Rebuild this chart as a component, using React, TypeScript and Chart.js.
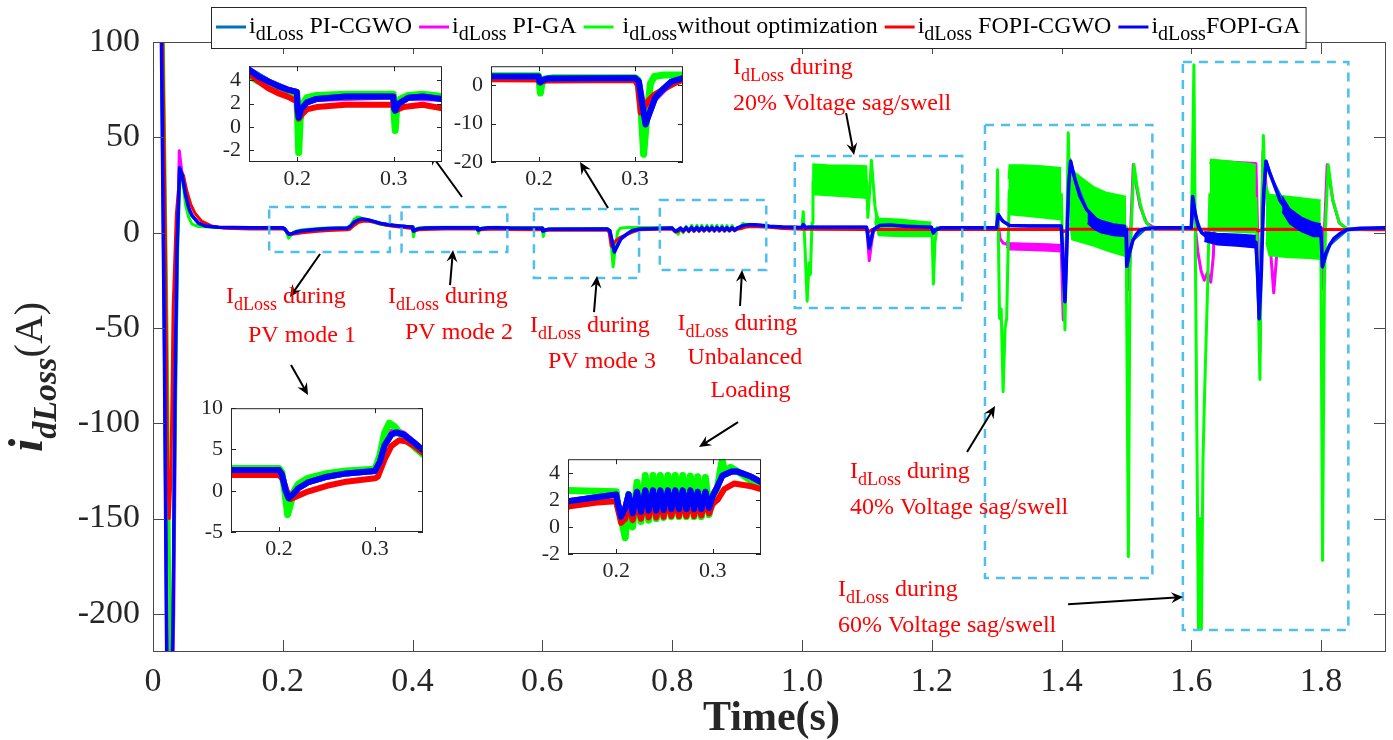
import React, { useEffect, useRef } from 'react';
import { Chart, registerables } from 'chart.js';

Chart.register(...registerables);

type Pt = [number, number];
type Band = [number, number, number];

const FONT = "'Liberation Serif', 'Times New Roman', Times, serif";

// ---------- axes ----------
const xTickValues = [0, 0.2, 0.4, 0.6, 0.8, 1.0, 1.2, 1.4, 1.6, 1.8];
const xTickLabels = ['0', '0.2', '0.4', '0.6', '0.8', '1.0', '1.2', '1.4', '1.6', '1.8'];
const yTickValues = [-200, -150, -100, -50, 0, 50, 100];
const yTickLabels = ['-200', '-150', '-100', '-50', '0', '50', '100'];
const insetXTickLabels = ['0.2', '0.3'];

// ---------- series ----------
const seriesNames = ['PI-CGWO', 'PI-GA', 'without optimization', 'FOPI-CGWO', 'FOPI-GA'];
const seriesPrefix = ['i', 'i', ' i', 'i', 'i'];
const seriesColors = ['#0072BD', '#FF00FF', '#00FF00', '#FF0000', '#0000FF'];

const noOpt: Pt[] = [
  [0, 300], [0.012, 180], [0.016, 100], [0.022, -60], [0.028, -260], [0.031, -200], [0.035, -80], [0.038, -10], [0.042, 33], [0.046, 27], [0.05, 15], [0.055, 8], [0.06, 4.5], [0.07, 3.2], [0.1, 2.8],
  [0.15, 2.7], [0.2, 2.7], [0.203, 2.2], [0.206, 0], [0.209, -2.9], [0.212, -1.6], [0.215, -0.2], [0.22, 0.8], [0.23, 1.5], [0.25, 2.1], [0.27, 2.4], [0.3, 2.6], [0.305, 4.2], [0.31, 7.0], [0.315, 8.2], [0.32, 7.8], [0.325, 7.1], [0.33, 6.4], [0.34, 5.4],
  [0.35, 4.4], [0.36, 3.9], [0.37, 3.5], [0.38, 3.2], [0.39, 3.0], [0.3995, 2.9], [0.4005, 0.5], [0.4015, -2.2], [0.403, 0.6], [0.406, 2.0], [0.41, 2.5], [0.42, 2.7], [0.45, 2.8], [0.4995, 2.8], [0.5005, 1.0], [0.5015, -0.3], [0.503, 1.6], [0.507, 2.4], [0.515, 2.7], [0.53, 2.8],
  [0.55, 2.6], [0.5995, 2.5], [0.6005, 0.2], [0.6015, -2.0], [0.603, 0.4], [0.606, 1.7], [0.615, 2.0], [0.7, 2.0], [0.703, 1.5], [0.706, -5], [0.709, -18], [0.712, -9], [0.716, 0.4], [0.72, 2.3], [0.73, 2.7], [0.745, 2.7],
  [0.8, 2.6], [0.8015, 1.5], [0.8045, 0.8], [0.8093, -0.8], [0.8128, 2.4], [0.817, 0.0], [0.8215, 3.3], [0.8256, 0.4], [0.8301, 3.8], [0.8336, 0.5], [0.8381, 3.8], [0.8415, 0.6], [0.8457, 3.8], [0.8491, 0.7], [0.8536, 3.8], [0.8571, 0.75], [0.8612, 3.8], [0.865, 0.75], [0.8689, 3.8], [0.8727, 0.75], [0.8768, 3.75], [0.8806, 0.75], [0.8844, 3.7], [0.8882, 0.75], [0.8924, 3.65], [0.8962, 0.9], [0.9, 2.4], [0.9045, 2.8], [0.9097, 4.9], [0.9131, 3.9], [0.9183, 4.4], [0.93, 3.9], [0.94, 3.4], [0.95, 3.0], [0.97, 2.7],
  [1.0, 2.5], [1.002, 11], [1.005, -10], [1.008, -36], [1.011, -16], [1.013, -22], [1.0155, 5], [1.017, 27], [1.0995, 27], [1.1005, 20], [1.1015, 8], [1.104, 20], [1.107, 38], [1.1125, 14], [1.118, 3], [1.1995, 2], [1.2005, 1], [1.2025, -27], [1.205, -5], [1.208, 2.5],
  [1.3, 2.5], [1.3015, 33], [1.303, -10], [1.3045, -45], [1.307, -40], [1.31, -83.5], [1.313, -50], [1.3155, -45], [1.3195, 22], [1.3995, 20], [1.4, 15], [1.4025, -20], [1.4053, -51], [1.408, 0], [1.4104, 52.4], [1.413, 15], [1.4995, 3], [1.5, -20], [1.503, -170], [1.5055, -20], [1.5075, 2.5], [1.5116, 35.8], [1.516, 25], [1.521, 15.6], [1.528, 6.8], [1.536, 3], [1.55, 2.5],
  [1.6, 2.5], [1.602, 40], [1.604, 88], [1.607, -40], [1.611, -208], [1.6135, -150], [1.6155, -208], [1.618, -119], [1.6205, -84], [1.625, -30], [1.6285, 20], [1.6995, 18], [1.7025, -20], [1.7057, -77], [1.708, 0], [1.711, 51], [1.714, 20], [1.7995, 2], [1.8, -30], [1.8022, -172], [1.805, -30], [1.807, 5], [1.811, 35.6], [1.818, 17], [1.828, 5.4], [1.839, 2], [1.9, 2],
];

// noisy envelopes [t, upper, lower]
const noOptBands: Band[][] = [
  [[1.0155, 22, 12], [1.017, 36, 20], [1.04, 35.5, 19.5], [1.07, 35.3, 18.8], [1.0995, 35, 18], [1.1005, 25, 20]],
  [[1.112, 14, 6], [1.118, 7.5, -1.5], [1.15, 7, -2], [1.18, 6, -2], [1.1995, 5.5, -2]],
  [[1.318, 28, 18], [1.3195, 35.5, 9.5], [1.34, 35.5, 8.8], [1.37, 35, 7.8], [1.3995, 34, 6.8]],
  [[1.413, 33, 5], [1.416, 33, -3.7], [1.43, 29, -5], [1.45, 24, -7], [1.47, 21, -9.5], [1.4995, 19, -12.5]],
  [[1.6285, 36, 20], [1.63, 38.5, 1], [1.66, 37.5, 0.5], [1.69, 36.3, 0], [1.6995, 35.6, 0]],
  [[1.715, 25, -5], [1.72, 20, -12], [1.75, 19, -13], [1.78, 17.8, -13.5], [1.7995, 17, -14]],
];

const fopiGa: Pt[] = [
  [0, 300], [0.01, 160], [0.013, 100], [0.0175, -60], [0.022, -260], [0.028, -260], [0.031, -200], [0.034, -80], [0.037, -10], [0.041, 34], [0.045, 30], [0.05, 20], [0.055, 13], [0.06, 9], [0.07, 5], [0.08, 3.5], [0.1, 2.8],
  [0.15, 2.5], [0.2, 2.5], [0.203, 2.0], [0.207, 0], [0.21, -0.9], [0.215, -0.4], [0.22, 0.3], [0.23, 1.0], [0.25, 1.7], [0.27, 2.1], [0.3, 2.4], [0.305, 3.5], [0.31, 5.5], [0.317, 6.8], [0.322, 7.1], [0.33, 6.8], [0.34, 5.9],
  [0.35, 4.9], [0.36, 4.3], [0.37, 3.9], [0.38, 3.5], [0.39, 3.2], [0.3995, 3.0], [0.4005, 1.5], [0.4015, 0.8], [0.404, 1.5], [0.41, 2.1], [0.42, 2.4], [0.45, 2.6], [0.4995, 2.6], [0.5005, 1.6], [0.5015, 1.4], [0.505, 2.0], [0.515, 2.5], [0.53, 2.6],
  [0.55, 2.4], [0.5995, 2.3], [0.6005, 1.0], [0.6015, 0.8], [0.604, 1.4], [0.61, 1.8], [0.7, 1.9], [0.704, 1.0], [0.707, -4], [0.711, -10.2], [0.714, -8], [0.721, -3.2], [0.73, -0.8], [0.738, 1.0], [0.75, 1.9],
  [0.8, 2.4], [0.8015, 1.8], [0.805, 0.75], [0.8093, 1.4], [0.8128, 2.4], [0.817, 1.0], [0.8215, 2.6], [0.8256, 1.1], [0.8301, 2.7], [0.8336, 1.2], [0.8381, 2.7], [0.8415, 1.2], [0.8457, 2.7], [0.8491, 1.25], [0.8536, 2.7], [0.8571, 1.3], [0.8612, 2.7], [0.865, 1.3], [0.8689, 2.7], [0.8727, 1.3], [0.8768, 2.7], [0.8806, 1.3], [0.8844, 2.6], [0.8882, 1.3], [0.8924, 2.6], [0.8962, 1.4], [0.9, 2.3], [0.905, 3.0], [0.91, 3.8], [0.92, 4.1], [0.925, 4.1], [0.94, 3.7], [0.95, 3.3], [0.97, 2.9],
  [1.0, 2.7], [1.002, 4.2], [1.006, 2.5], [1.01, 3.0], [1.05, 2.8], [1.0995, 2.8], [1.101, 0], [1.1037, -8.1], [1.107, -3], [1.11, 1.6], [1.12, 3.7], [1.135, 4.0], [1.16, 3.4], [1.19, 2.9], [1.1995, 2.8], [1.2025, -0.2], [1.206, 1.5], [1.215, 2.6],
  [1.3, 2.5], [1.3025, 9.5], [1.306, 7.5], [1.31, 5.9], [1.32, 3.7], [1.35, 3.5], [1.3995, 3.5], [1.4015, -10], [1.4053, -36.2], [1.408, -10], [1.411, 25], [1.414, 37.5], [1.417, 33], [1.4207, 27.9], [1.4284, 19.1], [1.4387, 12.1], [1.454, 6.8], [1.469, 4.2], [1.485, 2.5], [1.4995, 1.5], [1.5005, -17.7], [1.505, -10], [1.51, -4], [1.515, -1], [1.52, 1.0], [1.53, 2.2], [1.55, 2.5],
  [1.6, 2.5], [1.602, 19], [1.605, 12], [1.608, 7], [1.611, 3], [1.616, 0], [1.623, -2], [1.635, -3.4], [1.6995, -5], [1.702, -20], [1.7046, -45.2], [1.708, -20], [1.7115, 20], [1.715, 37.5], [1.72, 32], [1.726, 26.8], [1.7365, 17], [1.752, 9.3], [1.772, 5.4], [1.7995, 2.5], [1.802, -17.9], [1.807, -11], [1.8135, -6.3], [1.82, -3], [1.829, -0.5], [1.84, 1.5], [1.86, 2.3], [1.9, 2.5],
];

const fopiGaBands: Band[][] = [
  [[1.44, 11, 5], [1.45, 8, 2], [1.46, 6.5, 0], [1.48, 4.5, -1.5], [1.4995, 3.8, -2]],
  [[1.62, 0.5, -4.5], [1.64, -0.5, -6.3], [1.67, -0.8, -7], [1.6995, -1.5, -8]],
  [[1.74, 19, 11], [1.752, 12.5, 4.5], [1.77, 8, 0.5], [1.788, 5.4, -2], [1.7995, 4.5, -2]],
];

const piCgwo: Pt[] = [
  [0, 300], [0.01, 160], [0.013, 100], [0.0175, -60], [0.022, -260], [0.028, -260], [0.031, -200], [0.034, -80], [0.037, -10], [0.041, 34], [0.045, 30], [0.05, 20], [0.055, 13], [0.06, 9], [0.07, 5], [0.08, 3.5], [0.1, 2.8],
  [0.15, 2.5], [0.2, 2.5], [0.203, 2.0], [0.207, 0], [0.21, -0.9], [0.215, -0.4], [0.22, 0.3], [0.23, 1.0], [0.25, 1.7], [0.27, 2.1], [0.3, 2.4], [0.305, 3.5], [0.31, 5.5], [0.317, 6.8], [0.322, 7.0], [0.33, 6.8], [0.34, 5.9],
  [0.35, 4.9], [0.37, 3.9], [0.39, 3.2], [0.3995, 3.0], [0.4005, 1.5], [0.4015, 0.8], [0.404, 1.5], [0.41, 2.1], [0.42, 2.4], [0.45, 2.6], [0.4995, 2.6], [0.5005, 1.6], [0.5015, 1.4], [0.505, 2.0], [0.515, 2.5], [0.53, 2.6],
  [0.55, 2.4], [0.5995, 2.3], [0.6005, 1.0], [0.6015, 0.8], [0.604, 1.4], [0.61, 1.8], [0.7, 1.9], [0.704, 1.0], [0.707, -4], [0.711, -10], [0.714, -8], [0.721, -3.2], [0.73, -0.8], [0.738, 1.0], [0.75, 1.9],
  [0.8, 2.4], [0.8015, 1.8], [0.805, 0.75], [0.8093, 1.4], [0.8128, 2.4], [0.817, 1.0], [0.8215, 2.6], [0.8256, 1.1], [0.8301, 2.7], [0.8336, 1.2], [0.8381, 2.7], [0.8415, 1.2], [0.8457, 2.7], [0.8491, 1.25], [0.8536, 2.7], [0.8571, 1.3], [0.8612, 2.7], [0.865, 1.3], [0.8689, 2.7], [0.8727, 1.3], [0.8768, 2.7], [0.8806, 1.3], [0.8844, 2.6], [0.8882, 1.3], [0.8924, 2.6], [0.8962, 1.4], [0.9, 2.3], [0.905, 3.0], [0.91, 3.8], [0.92, 4.1], [0.925, 4.1], [0.94, 3.7], [0.95, 3.3], [0.97, 2.9],
  [1.0, 2.7], [1.002, 4.2], [1.006, 2.5], [1.05, 2.8], [1.0995, 2.8], [1.101, 0], [1.1037, -8], [1.107, -3], [1.11, 1.6], [1.12, 3.7], [1.135, 4.0], [1.16, 3.4], [1.1995, 2.8], [1.2025, -0.2], [1.206, 1.5], [1.215, 2.6],
  [1.3, 2.5], [1.3025, 9.5], [1.31, 5.9], [1.32, 3.7], [1.3995, 3.5], [1.4053, -36], [1.408, -10], [1.411, 25], [1.414, 37.5], [1.4207, 27.9], [1.4387, 12.1], [1.454, 6.8], [1.469, 4.2], [1.4995, 1.5], [1.5005, -17.7], [1.51, -4], [1.53, 2.2], [1.55, 2.5],
  [1.6, 2.5], [1.602, 19], [1.608, 7], [1.616, 0], [1.635, -3.4], [1.6995, -5], [1.7046, -45], [1.7115, 20], [1.715, 37.5], [1.726, 26.8], [1.752, 9.3], [1.7995, 2.5], [1.802, -17.9], [1.8135, -6.3], [1.84, 1.5], [1.9, 2.5],
];

const fopiCgwo: Pt[] = [
  [0, 300], [0.011, 160], [0.015, 100], [0.019, 0], [0.0225, -120], [0.025, -150], [0.0275, -130], [0.031, -40], [0.036, 10], [0.042, 33], [0.047, 30], [0.052, 22], [0.058, 15], [0.065, 10], [0.075, 6], [0.09, 3.5], [0.11, 2.3],
  [0.15, 1.9], [0.2, 1.9], [0.204, 1.4], [0.208, 0], [0.212, -1.0], [0.22, -0.6], [0.23, -0.1], [0.25, 0.6], [0.27, 1.1], [0.3, 1.5], [0.303, 1.7], [0.31, 3.8], [0.317, 5.4], [0.325, 6.1], [0.332, 6.0], [0.34, 5.5],
  [0.35, 4.6], [0.36, 3.9], [0.37, 3.3], [0.38, 2.9], [0.39, 2.6], [0.3995, 2.2], [0.4005, 1.2], [0.4015, 0.7], [0.405, 1.1], [0.41, 1.5], [0.42, 1.7], [0.45, 1.9], [0.4995, 1.9], [0.5005, 1.5], [0.5015, 1.4], [0.51, 1.7], [0.53, 1.9],
  [0.55, 1.6], [0.5995, 1.5], [0.6005, 0.8], [0.604, 1.1], [0.61, 1.3], [0.7, 1.4], [0.703, 0], [0.706, -7.1], [0.709, -6], [0.714, -4], [0.72, -2.5], [0.73, -1.0], [0.74, 0.4], [0.75, 1.5],
  [0.78, 1.8], [0.8, 1.9], [0.8015, 1.4], [0.805, 0.3], [0.8093, 0.6], [0.8128, 1.8], [0.817, 0.5], [0.8215, 2.0], [0.8256, 0.6], [0.8301, 2.1], [0.8336, 0.7], [0.8381, 2.1], [0.8415, 0.7], [0.8457, 2.1], [0.8491, 0.75], [0.8536, 2.1], [0.8571, 0.8], [0.8612, 2.1], [0.865, 0.8], [0.8689, 2.1], [0.8727, 0.8], [0.8768, 2.1], [0.8806, 0.8], [0.8844, 2.0], [0.8882, 0.85], [0.8924, 2.0], [0.8962, 1.0], [0.9, 1.7], [0.905, 2.0], [0.912, 2.8], [0.922, 3.2], [0.94, 3.0], [0.95, 2.8], [0.97, 2.2],
  [1.0, 1.8], [1.1, 1.7], [1.103, 0.5], [1.108, 1.6], [1.4, 1.8], [1.403, 0.5], [1.41, 1.8], [1.7, 1.8], [1.703, 0.8], [1.71, 1.8], [1.9, 1.5],
];

const piGa: Pt[] = [
  [0, 300], [0.011, 160], [0.014, 100], [0.0185, -60], [0.023, -260], [0.029, -260], [0.032, -200], [0.035, -80], [0.038, 0], [0.0405, 43], [0.044, 33], [0.05, 20], [0.055, 13], [0.06, 9], [0.07, 5], [0.08, 3.5], [0.1, 2.8],
  [0.15, 2.5], [0.2, 2.5], [0.203, 2.0], [0.207, 0], [0.21, -1.0], [0.215, -0.5], [0.22, 0.3], [0.23, 1.0], [0.25, 1.7], [0.27, 2.1], [0.3, 2.4], [0.305, 3.6], [0.31, 5.7], [0.317, 7.1], [0.322, 7.3], [0.33, 6.9], [0.34, 5.9],
  [0.35, 4.9], [0.37, 3.9], [0.39, 3.2], [0.3995, 3.0], [0.4015, 0.8], [0.404, 1.5], [0.41, 2.1], [0.42, 2.4], [0.4995, 2.6], [0.5015, 1.4], [0.505, 2.0], [0.515, 2.5],
  [0.5995, 2.3], [0.6015, 0.8], [0.604, 1.4], [0.61, 1.8], [0.7, 1.9], [0.704, 1.0], [0.707, -3], [0.711, -7.5], [0.714, -7], [0.721, -3.5], [0.73, -1.2], [0.738, 0.8], [0.75, 1.9],
  [0.8, 2.4], [0.8015, 1.8], [0.805, 0.75], [0.8093, 1.4], [0.8128, 2.4], [0.817, 1.0], [0.8215, 2.6], [0.8256, 1.1], [0.8301, 2.7], [0.8336, 1.2], [0.8381, 2.7], [0.8415, 1.2], [0.8457, 2.7], [0.8491, 1.25], [0.8536, 2.7], [0.8571, 1.3], [0.8612, 2.7], [0.865, 1.3], [0.8689, 2.7], [0.8727, 1.3], [0.8768, 2.7], [0.8806, 1.3], [0.8844, 2.6], [0.8882, 1.3], [0.8924, 2.6], [0.8962, 1.4], [0.9, 2.3], [0.905, 3.0], [0.91, 3.8], [0.92, 4.1], [0.925, 4.1], [0.94, 3.7], [0.95, 3.3], [0.97, 2.9],
  [1.0, 2.7], [1.002, 4.5], [1.006, 2.5], [1.05, 2.8], [1.0995, 2.8], [1.101, -2], [1.1037, -14.7], [1.107, -6], [1.11, 0.5], [1.12, 3.5], [1.135, 4.0], [1.16, 3.4], [1.19, 2.9], [1.1995, 2.8], [1.2025, -0.5], [1.206, 1.5], [1.215, 2.6],
  [1.3, 2.5], [1.3015, 8.6], [1.305, -3], [1.31, -5.5], [1.315, -6], [1.32, -7.2], [1.35, -7.5], [1.3995, -8], [1.4027, -45.8], [1.406, -15], [1.41, 20], [1.413, 38.4], [1.417, 32], [1.4207, 27], [1.4284, 19], [1.4387, 12], [1.454, 6.8], [1.469, 4.2], [1.485, 2.5], [1.4995, 1.5], [1.502, -15], [1.504, -30], [1.507, 5], [1.5106, 35.8], [1.515, 25], [1.521, 13.9], [1.531, 5.1], [1.541, 3], [1.55, 2.5],
  [1.6, 2.5], [1.603, 19], [1.607, 0], [1.61, -10], [1.615, -20], [1.62, -25], [1.625, -21], [1.63, -26], [1.634, -12], [1.638, 30], [1.641, 37.5], [1.67, 36.8], [1.6995, 36.3], [1.703, -10], [1.7057, -62.8], [1.708, 0], [1.7105, 42.4], [1.714, 30], [1.72, 0], [1.727, -31.6], [1.732, -10], [1.736, 0], [1.76, 3], [1.7995, 3], [1.8, -10], [1.802, -29.7], [1.805, 0], [1.8094, 35.6], [1.818, 17], [1.828, 5], [1.84, 2], [1.9, 2],
];

const piGaBands: Band[][] = [
  [[1.315, -4.5, -7.5], [1.32, -5.3, -9], [1.35, -5.7, -9.3], [1.38, -6, -9.6], [1.3995, -6.3, -10]],
];

// ---------- annotations (data coordinates) ----------
// [tStart, tEnd, yTop, yBottom]
const zoomBoxes: [number, number, number, number][] = [
  [0.179, 0.365, 13.4, -10.2],
  [0.383, 0.546, 13.4, -10.2],
  [0.587, 0.749, 12.4, -23.8],
  [0.781, 0.945, 17.1, -19.6],
  [0.989, 1.247, 40.2, -39.6],
  [1.282, 1.54, 56.5, -181.2],
  [1.587, 1.842, 89.5, -208.5],
];
// [tFrom, yFrom, tTo, yTo]
const arrowLines: [number, number, number, number][] = [
  [0.2574, -11.2, 0.2111, -33.8],
  [0.4577, -27.5, 0.4623, -9.1],
  [0.2127, -69.5, 0.2389, -85.2],
  [0.4762, 18.7, 0.4269, 41.8],
  [0.7012, 12.9, 0.658, 37.0],
  [0.6796, -41.7, 0.6842, -22.8],
  [0.9046, -38.5, 0.9077, -19.6],
  [0.9015, -99.4, 0.8414, -112.5],
  [1.068, 62.7, 1.0803, 40.7],
  [1.2544, -115.1, 1.2976, -91.0],
  [1.4101, -194.9, 1.5873, -191.2],
];
// [t, y, text, starts with I_dLoss]
const labelLines: [number, number, string, boolean][] = [
  [0.1125, -36.9, ' during', true], [0.1464, -57.4, 'PV mode 1', false],
  [0.3622, -36.9, ' during', true], [0.3883, -55.8, 'PV mode 2', false],
  [0.581, -52.2, ' during', true], [0.6087, -71.0, 'PV mode 3', false],
  [0.8083, -51.1, ' during', true], [0.8237, -68.9, 'Unbalanced', false], [0.8591, -86.3, 'Loading', false],
  [0.8938, 83.2, ' during', true], [0.8938, 64.3, '20% Voltage sag/swell', false],
  [1.0741, -128.8, ' during', true], [1.0741, -147.6, '40% Voltage sag/swell', false],
  [1.0556, -190.7, ' during', true], [1.0556, -209.5, '60% Voltage sag/swell', false],
];

// ---------- inset layout (pixels) ----------
const insets = [
  { left: 249, top: 53, width: 193, height: 109, xMin: 0.35, xMax: 0.55, yMin: -3, yMax: 5.2, xTicks: [0.4, 0.5], yTicks: [-2, 0, 2, 4] },
  { left: 491, top: 53, width: 192, height: 109, xMin: 0.55, xMax: 0.75, yMin: -20, yMax: 5, xTicks: [0.6, 0.7], yTicks: [-20, -10, 0] },
  { left: 231, top: 395, width: 192, height: 137, xMin: 0.15, xMax: 0.35, yMin: -5, yMax: 10, xTicks: [0.2, 0.3], yTicks: [-5, 0, 5, 10] },
  { left: 568, top: 446, width: 193, height: 108, xMin: 0.75, xMax: 0.95, yMin: -2, yMax: 5, xTicks: [0.8, 0.9], yTicks: [-2, 0, 2, 4] },
];

function makeDatasets(widths: number[]) {
  const out: any[] = [];
  const groups = [
    { data: piGa, color: seriesColors[1], order: 5, w: widths[1], bands: piGaBands },
    { data: noOpt, color: seriesColors[2], order: 4, w: widths[2], bands: noOptBands },
    { data: fopiCgwo, color: seriesColors[3], order: 3, w: widths[3], bands: [] as Band[][] },
    { data: piCgwo, color: seriesColors[0], order: 2, w: widths[0], bands: [] as Band[][] },
    { data: fopiGa, color: seriesColors[4], order: 1, w: widths[4], bands: fopiGaBands },
  ];
  for (const g of groups) {
    for (const band of g.bands) {
      out.push({ data: band.map((b) => ({ x: b[0], y: b[1] })), borderColor: g.color, backgroundColor: g.color, borderWidth: 1.5, pointRadius: 0, fill: false, order: g.order, clip: 0 });
      out.push({ data: band.map((b) => ({ x: b[0], y: b[2] })), borderColor: g.color, backgroundColor: g.color, borderWidth: 1.5, pointRadius: 0, fill: '-1', order: g.order, clip: 0 });
    }
    out.push({ data: g.data.map(([x, y]) => ({ x, y })), borderColor: g.color, backgroundColor: g.color, borderWidth: g.w, pointRadius: 0, fill: false, order: g.order, borderJoinStyle: 'round', borderCapStyle: 'round', clip: 0 });
  }
  return out;
}

function drawArrow(ctx: CanvasRenderingContext2D, x0: number, y0: number, x1: number, y1: number) {
  const a = Math.atan2(y1 - y0, x1 - x0);
  const c = Math.cos(a), s = Math.sin(a);
  const L = 12, W = 5.5;
  ctx.strokeStyle = '#000';
  ctx.fillStyle = '#000';
  ctx.lineWidth = 2;
  ctx.beginPath();
  ctx.moveTo(x0, y0);
  ctx.lineTo(x1 - c * L * 0.6, y1 - s * L * 0.6);
  ctx.stroke();
  const bx = x1 - c * L, by = y1 - s * L;
  ctx.beginPath();
  ctx.moveTo(x1, y1);
  ctx.lineTo(bx - s * W, by + c * W);
  ctx.lineTo(x1 - c * L * 0.65, y1 - s * L * 0.65);
  ctx.lineTo(bx + s * W, by - c * W);
  ctx.closePath();
  ctx.fill();
}

const mainDecor = {
  id: 'mainDecor',
  afterDraw(chart: any) {
    const { ctx, chartArea: a, scales } = chart;
    const X = (t: number) => scales.x.getPixelForValue(t);
    const Y = (v: number) => scales.y.getPixelForValue(v);
    ctx.save();
    // frame and inward ticks on all sides
    ctx.strokeStyle = '#4a4a4a';
    ctx.lineWidth = 1;
    ctx.strokeRect(a.left + 0.5, a.top + 0.5, a.right - a.left - 1, a.bottom - a.top - 1);
    ctx.beginPath();
    for (const v of xTickValues) {
      const px = Math.round(X(v)) + 0.5;
      ctx.moveTo(px, a.bottom); ctx.lineTo(px, a.bottom - 12);
      ctx.moveTo(px, a.top); ctx.lineTo(px, a.top + 12);
    }
    for (const v of yTickValues) {
      const py = Math.round(Y(v)) + 0.5;
      ctx.moveTo(a.left, py); ctx.lineTo(a.left + 12, py);
      ctx.moveTo(a.right, py); ctx.lineTo(a.right - 12, py);
    }
    ctx.stroke();

    // dashed zoom boxes
    ctx.setLineDash([9, 7]);
    ctx.strokeStyle = '#4DBEEE';
    ctx.lineWidth = 2.5;
    for (const [t0, t1, y0, y1] of zoomBoxes) {
      ctx.strokeRect(X(t0), Y(y0), X(t1) - X(t0), Y(y1) - Y(y0));
    }
    ctx.setLineDash([]);

    // arrows
    for (const [t0, v0, t1, v1] of arrowLines) drawArrow(ctx, X(t0), Y(v0), X(t1), Y(v1));

    // red labels
    ctx.fillStyle = '#FF0000';
    ctx.textAlign = 'left';
    ctx.textBaseline = 'alphabetic';
    for (const [t, v, text, pre] of labelLines) {
      let x = X(t);
      const y = Y(v);
      if (pre) {
        ctx.font = `24px ${FONT}`;
        ctx.fillText('I', x, y);
        x += ctx.measureText('I').width;
        ctx.font = `18px ${FONT}`;
        ctx.fillText('dLoss', x, y + 7);
        x += ctx.measureText('dLoss').width;
      }
      ctx.font = `24px ${FONT}`;
      ctx.fillText(text, x, y);
    }

    // legend
    const legFont = `24px ${FONT}`;
    const legSub = `20px ${FONT}`;
    const items = seriesNames.map((name, i) => {
      ctx.font = legFont;
      const wp = ctx.measureText(seriesPrefix[i]).width;
      const wl = ctx.measureText((i === 2 || i === 4) ? name : ' ' + name).width;
      ctx.font = legSub;
      const ws = ctx.measureText('dLoss').width;
      return { wp, wl, ws };
    });
    const boxLeft = 211, boxTop = 7, boxBottom = 48;
    let total = 5;
    items.forEach((it, i) => { total += 30 + 3 + it.wp + it.ws + it.wl + (i < items.length - 1 ? 7 : 5); });
    ctx.fillStyle = '#fff';
    ctx.fillRect(boxLeft, boxTop, total, boxBottom - boxTop);
    ctx.strokeStyle = '#262626';
    ctx.lineWidth = 1;
    ctx.strokeRect(boxLeft + 0.5, boxTop + 0.5, total, boxBottom - boxTop);
    let lx = boxLeft + 5;
    items.forEach((it, i) => {
      ctx.strokeStyle = seriesColors[i];
      ctx.lineWidth = 3;
      ctx.beginPath(); ctx.moveTo(lx, 27); ctx.lineTo(lx + 30, 27); ctx.stroke();
      lx += 33;
      ctx.fillStyle = '#000';
      ctx.font = legFont;
      ctx.fillText(seriesPrefix[i], lx, 33);
      lx += it.wp;
      ctx.font = legSub;
      ctx.fillText('dLoss', lx, 40);
      lx += it.ws;
      ctx.font = legFont;
      ctx.fillText((i === 2 || i === 4) ? seriesNames[i] : ' ' + seriesNames[i], lx, 33);
      lx += it.wl + 7;
    });

    // x title
    ctx.fillStyle = '#262626';
    ctx.font = `bold 42px ${FONT}`;
    ctx.textAlign = 'center';
    ctx.fillText('Time(s)', (a.left + a.right) / 2 + 2, 730);

    // y title (rotated)
    ctx.save();
    ctx.translate(42, 452);
    ctx.rotate(-Math.PI / 2);
    ctx.textAlign = 'left';
    let yx = 0;
    ctx.font = `italic bold 48px ${FONT}`;
    ctx.fillText('i', yx, 0);
    yx += ctx.measureText('i').width;
    ctx.font = `italic bold 34px ${FONT}`;
    ctx.fillText('dLoss', yx, 14);
    yx += ctx.measureText('dLoss').width;
    ctx.font = `40px ${FONT}`;
    ctx.fillText('(A)', yx, 0);
    ctx.restore();

    ctx.restore();
  },
};

const insetDecor = {
  id: 'insetDecor',
  beforeDraw(chart: any) {
    const { ctx, chartArea: a } = chart;
    ctx.save();
    ctx.fillStyle = '#fff';
    ctx.fillRect(a.left, a.top, a.right - a.left, a.bottom - a.top);
    ctx.restore();
  },
  afterDraw(chart: any) {
    const { ctx, chartArea: a, scales } = chart;
    ctx.save();
    ctx.strokeStyle = '#262626';
    ctx.lineWidth = 1;
    ctx.strokeRect(a.left + 0.5, a.top + 0.5, a.right - a.left - 1, a.bottom - a.top - 1);
    ctx.beginPath();
    for (const t of scales.x.ticks) {
      const px = Math.round(scales.x.getPixelForValue(t.value)) + 0.5;
      ctx.moveTo(px, a.bottom); ctx.lineTo(px, a.bottom - 5);
      ctx.moveTo(px, a.top); ctx.lineTo(px, a.top + 5);
    }
    for (const t of scales.y.ticks) {
      const py = Math.round(scales.y.getPixelForValue(t.value)) + 0.5;
      ctx.moveTo(a.left, py); ctx.lineTo(a.left + 5, py);
      ctx.moveTo(a.right, py); ctx.lineTo(a.right - 5, py);
    }
    ctx.stroke();
    ctx.restore();
  },
};

function mainConfig(): any {
  return {
    type: 'line',
    data: { datasets: makeDatasets([3, 3, 3, 3, 3.5]) },
    options: {
      animation: false,
      responsive: false,
      devicePixelRatio: 1,
      layout: { padding: { left: 0, right: 7, top: 42, bottom: 0 } },
      plugins: { legend: { display: false }, tooltip: { enabled: false } },
      elements: { point: { radius: 0 }, line: { tension: 0 } },
      scales: {
        x: {
          type: 'linear', min: 0, max: 1.9, bounds: 'data',
          grid: { display: false, drawTicks: false }, border: { display: false },
          ticks: { autoSkip: false, maxRotation: 0, padding: 10, color: '#262626', font: { family: FONT, size: 34 }, callback: (_v: any, i: number) => xTickLabels[i] },
          afterBuildTicks: (s: any) => { s.ticks = xTickValues.map((v) => ({ value: v })); },
          afterFit: (s: any) => { s.height = 88; },
        },
        y: {
          type: 'linear', min: -220, max: 100, bounds: 'data',
          grid: { display: false, drawTicks: false }, border: { display: false },
          ticks: { autoSkip: false, padding: 13, color: '#262626', font: { family: FONT, size: 34 }, callback: (_v: any, i: number) => yTickLabels[i] },
          afterBuildTicks: (s: any) => { s.ticks = yTickValues.map((v) => ({ value: v })); },
          afterFit: (s: any) => { s.width = 153; },
        },
      },
    },
    plugins: [mainDecor],
  };
}

function insetConfig(ins: any): any {
  return {
    type: 'line',
    data: { datasets: makeDatasets([6, 6, 7, 6, 6]) },
    options: {
      animation: false,
      responsive: false,
      devicePixelRatio: 1,
      layout: { padding: { left: 0, right: 8, top: 8, bottom: 0 } },
      plugins: { legend: { display: false }, tooltip: { enabled: false } },
      elements: { point: { radius: 0 }, line: { tension: 0 } },
      scales: {
        x: {
          type: 'linear', min: ins.xMin, max: ins.xMax, bounds: 'data',
          grid: { display: false, drawTicks: false }, border: { display: false },
          ticks: { autoSkip: false, maxRotation: 0, padding: 4, color: '#262626', font: { family: FONT, size: 22 }, callback: (_v: any, i: number) => insetXTickLabels[i] },
          afterBuildTicks: (s: any) => { s.ticks = ins.xTicks.map((v: number) => ({ value: v })); },
          afterFit: (s: any) => { s.height = 32; },
        },
        y: {
          type: 'linear', min: ins.yMin, max: ins.yMax, bounds: 'data',
          grid: { display: false, drawTicks: false }, border: { display: false },
          ticks: { autoSkip: false, padding: 8, color: '#262626', font: { family: FONT, size: 22 }, callback: (v: any) => String(v) },
          afterBuildTicks: (s: any) => { s.ticks = ins.yTicks.map((v: number) => ({ value: v })); },
          afterFit: (s: any) => { s.width = 50; },
        },
      },
    },
    plugins: [insetDecor],
  };
}

function ChartCanvas({ make, left, top, width, height }: { make: () => any; left: number; top: number; width: number; height: number }) {
  const ref = useRef<HTMLCanvasElement | null>(null);
  useEffect(() => {
    if (!ref.current) return;
    const chart = new Chart(ref.current, make());
    return () => chart.destroy();
  }, []);
  return <canvas ref={ref} width={width} height={height} style={{ position: 'absolute', left, top, width, height }} />;
}

export default function App() {
  return (
    <div style={{ position: 'absolute', left: 0, top: 0, width: 1393, height: 740, background: '#fff', overflow: 'hidden' }}>
      <ChartCanvas make={mainConfig} left={0} top={0} width={1393} height={740} />
      {insets.map((ins, i) => (
        <ChartCanvas key={i} make={() => insetConfig(ins)} left={ins.left - 50} top={ins.top - 8} width={ins.width + 58} height={ins.height + 40} />
      ))}
    </div>
  );
}
